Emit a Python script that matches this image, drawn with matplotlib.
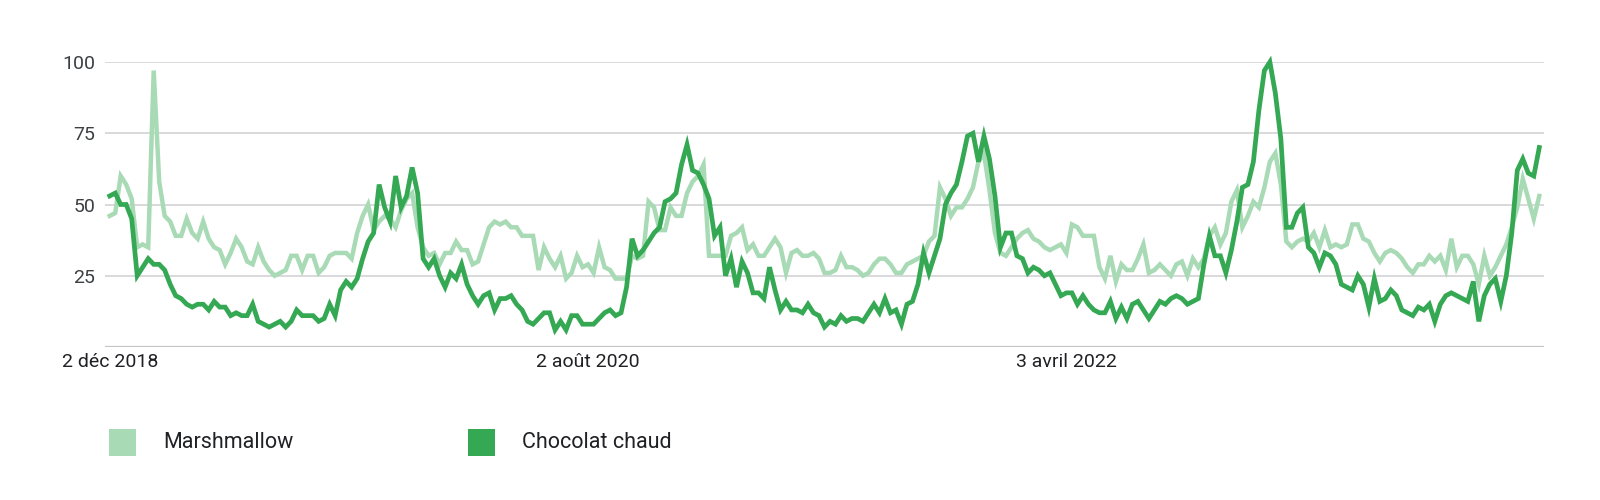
import matplotlib
matplotlib.use("Agg")
import matplotlib.pyplot as plt
from matplotlib.patches import Rectangle
import pandas as pd

start_date = "2018-12-02"
n_weeks = 261

chocolat_chaud = [
    53, 54, 50, 50, 45, 25, 28, 31, 29, 29, 27, 22, 18, 17,
    15, 14, 15, 15, 13, 16, 14, 14, 11, 12,
    11, 11, 15, 9, 8, 7, 8, 9, 7, 9,
    13, 11, 11, 11, 9, 10, 15, 11, 20, 23,
    21, 24, 31, 37, 40, 57, 49, 44, 60, 49,
    53, 63, 54, 31, 28, 31, 25, 21, 26, 24,
    29, 22, 18, 15, 18, 19, 13, 17, 17, 18,
    15, 13, 9, 8, 10, 12, 12, 6, 9, 6,
    11, 11, 8, 8, 8, 10, 12, 13, 11, 12,
    21, 38, 32, 34, 37, 40, 42, 51, 52, 54,
    64, 71, 62, 61, 57, 52, 39, 42, 25, 31,
    21, 30, 26, 19, 19, 17, 28, 20, 13, 16,
    13, 13, 12, 15, 12, 11, 7, 9, 8, 11,
    9, 10, 10, 9, 12, 15, 12, 17, 12, 13,
    8, 15, 16, 22, 33, 26, 32, 38, 50, 54,
    57, 65, 74, 75, 65, 74, 66, 53, 35, 40,
    40, 32, 31, 26, 28, 27, 25, 26, 22, 18,
    19, 19, 15, 18, 15, 13, 12, 12, 16, 10,
    14, 10, 15, 16, 13, 10, 13, 16, 15, 17,
    18, 17, 15, 16, 17, 29, 39, 32, 32, 26,
    34, 44, 56, 57, 65, 83, 97, 100, 89, 73,
    42, 42, 47,
    49, 35, 33, 28, 33, 32, 29, 22, 21, 20,
    25, 22, 14, 24, 16, 17, 20, 18, 13, 12,
    11, 14, 13, 15, 9, 15, 18, 19, 18, 17,
    16, 23, 9, 18, 22, 24, 16, 25, 40, 62,
    66, 61, 60, 70,
]

marshmallow = [
    46, 47, 60, 57, 52, 35, 36, 35, 97, 58, 46, 44, 39, 39,
    45, 40, 38, 44, 38, 35, 34, 29, 33, 38,
    35, 30, 29, 35, 30, 27, 25, 26, 27, 32,
    32, 27, 32, 32, 26, 28, 32, 33, 33, 33,
    31, 40, 46, 50, 41, 44, 46, 45, 42, 48,
    52, 54, 42, 35, 32, 33, 29, 33, 33, 37,
    34, 34, 29, 30, 36, 42, 44, 43, 44, 42,
    42, 39, 39, 39, 27, 35, 31, 28, 32, 24,
    26, 32, 28, 29, 26, 35, 28, 27, 24, 24,
    24, 32, 31, 32, 51, 49, 41, 41, 49, 46,
    46, 54, 58, 60, 64, 32, 32, 32, 32, 39,
    40, 42, 34, 36, 32, 32, 35, 38, 35, 26,
    33, 34, 32, 32, 33, 31, 26, 26, 27, 32,
    28, 28, 27, 25, 26, 29, 31, 31, 29, 26,
    26, 29, 30, 31, 32, 37, 39, 56, 52, 46,
    49, 49, 52, 56, 65, 68, 55, 40, 33, 32,
    35, 38, 40, 41, 38, 37, 35, 34, 35, 36,
    33, 43, 42, 39, 39, 39, 28, 24, 32, 23,
    29, 27, 27, 31, 36, 26, 27, 29, 27, 25,
    29, 30, 25, 31, 28, 31, 39, 42, 36, 40,
    51, 55, 42, 46, 51, 49, 56, 65, 68, 57,
    37, 35, 37,
    38, 37, 40, 35, 41, 35, 36, 35, 36, 43,
    43, 38, 37, 33, 30, 33, 34, 33, 31, 28,
    26, 29, 29, 32, 30, 32, 27, 38, 28, 32,
    32, 29, 22, 32, 25, 28, 32, 36, 42, 49,
    59, 52, 45, 53,
]

series_names = ["Marshmallow", "Chocolat chaud"]
series_colors = ["#a8dab5", "#34a853"]
y_ticks = [25, 50, 75, 100]
x_tick_weeks = [0, 87, 174]
x_tick_labels = ["2 déc 2018", "2 août 2020", "3 avril 2022"]

dates = pd.date_range(start_date, periods=n_weeks, freq="7D")

plt.rcParams["font.family"] = ["Roboto", "DejaVu Sans"]

fig = plt.figure(figsize=(16, 5), dpi=100)
ax = fig.add_axes([105 / 1600, 1 - 347 / 500, 1439 / 1600, 285 / 500])

ax.plot(dates, marshmallow, color=series_colors[0], lw=3.2, zorder=3,
        clip_on=False, solid_joinstyle="miter")
ax.plot(dates, chocolat_chaud, color=series_colors[1], lw=3.4, zorder=4,
        clip_on=False, solid_joinstyle="miter")

ax.set_ylim(0, 100)
ax.set_xlim(dates[0] - pd.Timedelta(days=6), dates[-1] + pd.Timedelta(days=6))

for v in y_ticks:
    ax.axhline(v, color="#cfcfd3", lw=1.1, zorder=1)
ax.axhline(0, color="#c4c4c8", lw=1.6, zorder=2)

ax.set_yticks(y_ticks)
ax.set_yticklabels([str(v) for v in y_ticks])
ax.set_xticks([dates[i] for i in x_tick_weeks])
ax.set_xticklabels(x_tick_labels)
ax.tick_params(axis="y", length=0, pad=7, labelsize=14, labelcolor="#3c4043")
ax.tick_params(axis="x", length=0, pad=4, labelsize=14, labelcolor="#202124")
for s in ax.spines.values():
    s.set_visible(False)

# legend
legend_items = [(109, 163), (468, 522)]
for (sx, tx), name, col in zip(legend_items, series_names, series_colors):
    fig.add_artist(Rectangle((sx / 1600, 1 - 456 / 500), 27 / 1600, 27 / 500,
                             transform=fig.transFigure, facecolor=col,
                             edgecolor="none"))
    fig.text(tx / 1600, 1 - 443 / 500, name, fontsize=15.5, color="#202124",
             va="center", ha="left")

fig.savefig("out.png", dpi=100)
